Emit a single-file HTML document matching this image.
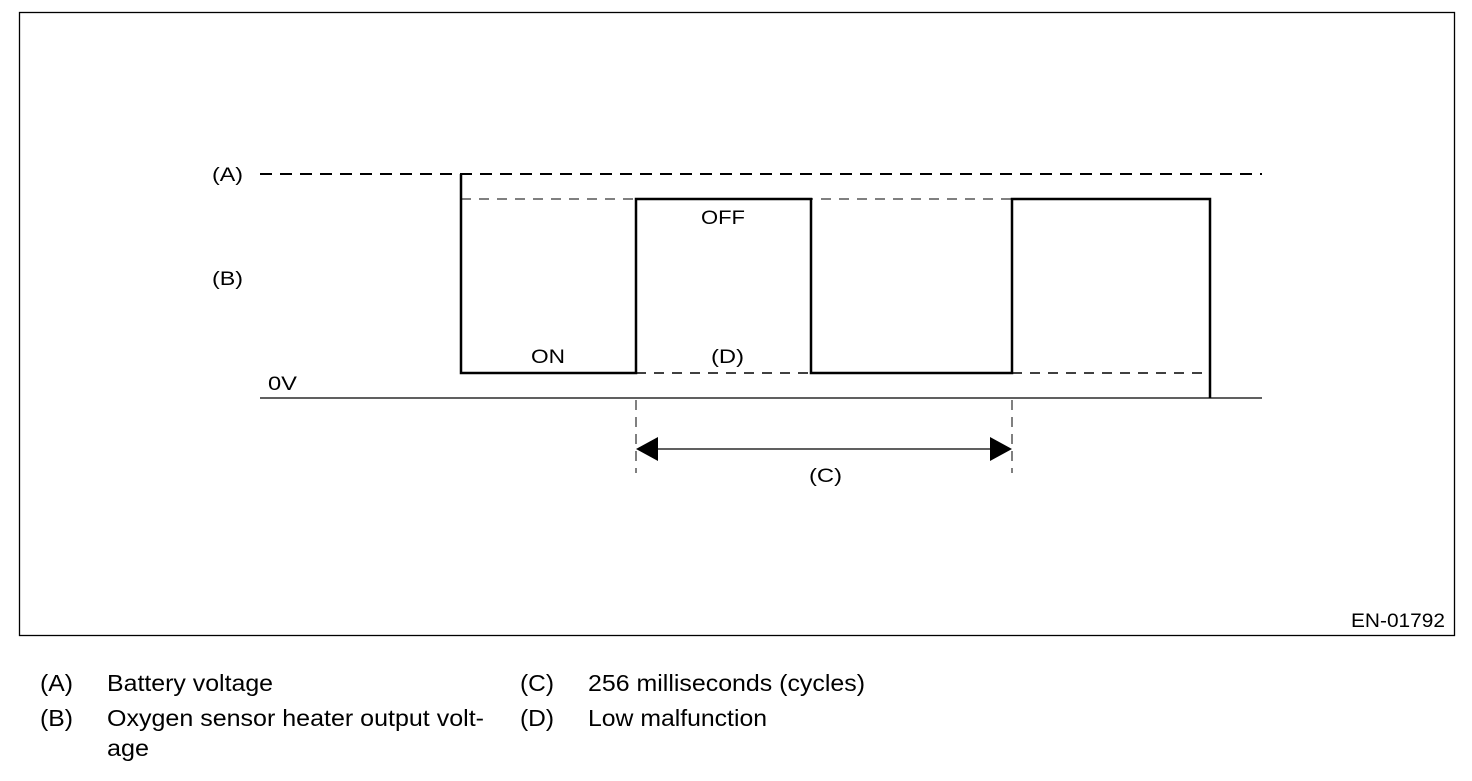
<!DOCTYPE html>
<html><head><style>
body{margin:0;background:#fff;width:1472px;height:776px;overflow:hidden}
svg text{font-family:"Liberation Sans",Arial,sans-serif;fill:#000}
</style></head><body>
<svg width="1472" height="776" xmlns="http://www.w3.org/2000/svg">
<rect x="19.5" y="12.5" width="1435" height="623" fill="none" stroke="#000" stroke-width="1.3"/>
<line x1="260" y1="174" x2="1262" y2="174" stroke="#000" stroke-width="2" stroke-dasharray="12,8"/>
<line x1="461" y1="199" x2="1210" y2="199" stroke="#000" stroke-width="1" stroke-dasharray="10,8"/>
<line x1="636" y1="373" x2="811" y2="373" stroke="#000" stroke-width="1.5" stroke-dasharray="10,8"/>
<line x1="1012" y1="373" x2="1210" y2="373" stroke="#000" stroke-width="1.5" stroke-dasharray="10,8"/>
<line x1="260" y1="398" x2="1262" y2="398" stroke="#000" stroke-width="1.2"/>
<polyline points="461,174 461,373 636,373 636,199 811,199 811,373 1012,373 1012,199 1210,199 1210,398" fill="none" stroke="#000" stroke-width="2.5"/>
<line x1="636" y1="400" x2="636" y2="473" stroke="#000" stroke-width="1" stroke-dasharray="10,7"/>
<line x1="1012" y1="400" x2="1012" y2="473" stroke="#000" stroke-width="1" stroke-dasharray="10,7"/>
<line x1="650" y1="449" x2="998" y2="449" stroke="#000" stroke-width="1.3"/>
<polygon points="636,449 658,437 658,461" fill="#000"/>
<polygon points="1012,449 990,437 990,461" fill="#000"/>
<g font-size="19">
<text x="212" y="181" textLength="31" lengthAdjust="spacingAndGlyphs">(A)</text>
<text x="212" y="285" textLength="31" lengthAdjust="spacingAndGlyphs">(B)</text>
<text x="268" y="390" textLength="29" lengthAdjust="spacingAndGlyphs">0V</text>
<text x="531" y="363" textLength="34" lengthAdjust="spacingAndGlyphs">ON</text>
<text x="701" y="224" textLength="44" lengthAdjust="spacingAndGlyphs">OFF</text>
<text x="711" y="363" textLength="33" lengthAdjust="spacingAndGlyphs">(D)</text>
<text x="809" y="482" textLength="33" lengthAdjust="spacingAndGlyphs">(C)</text>
<text x="1351" y="627" textLength="94" lengthAdjust="spacingAndGlyphs">EN-01792</text>
</g>
<g font-size="23">
<text x="40" y="691" textLength="33" lengthAdjust="spacingAndGlyphs">(A)</text><text x="107" y="691" textLength="166" lengthAdjust="spacingAndGlyphs">Battery voltage</text>
<text x="40" y="726" textLength="33" lengthAdjust="spacingAndGlyphs">(B)</text><text x="107" y="726" textLength="377" lengthAdjust="spacingAndGlyphs">Oxygen sensor heater output volt-</text>
<text x="107" y="756" textLength="42" lengthAdjust="spacingAndGlyphs">age</text>
<text x="520" y="691" textLength="34" lengthAdjust="spacingAndGlyphs">(C)</text><text x="588" y="691" textLength="277" lengthAdjust="spacingAndGlyphs">256 milliseconds (cycles)</text>
<text x="520" y="726" textLength="34" lengthAdjust="spacingAndGlyphs">(D)</text><text x="588" y="726" textLength="179" lengthAdjust="spacingAndGlyphs">Low malfunction</text>
</g>
</svg>
</body></html>
